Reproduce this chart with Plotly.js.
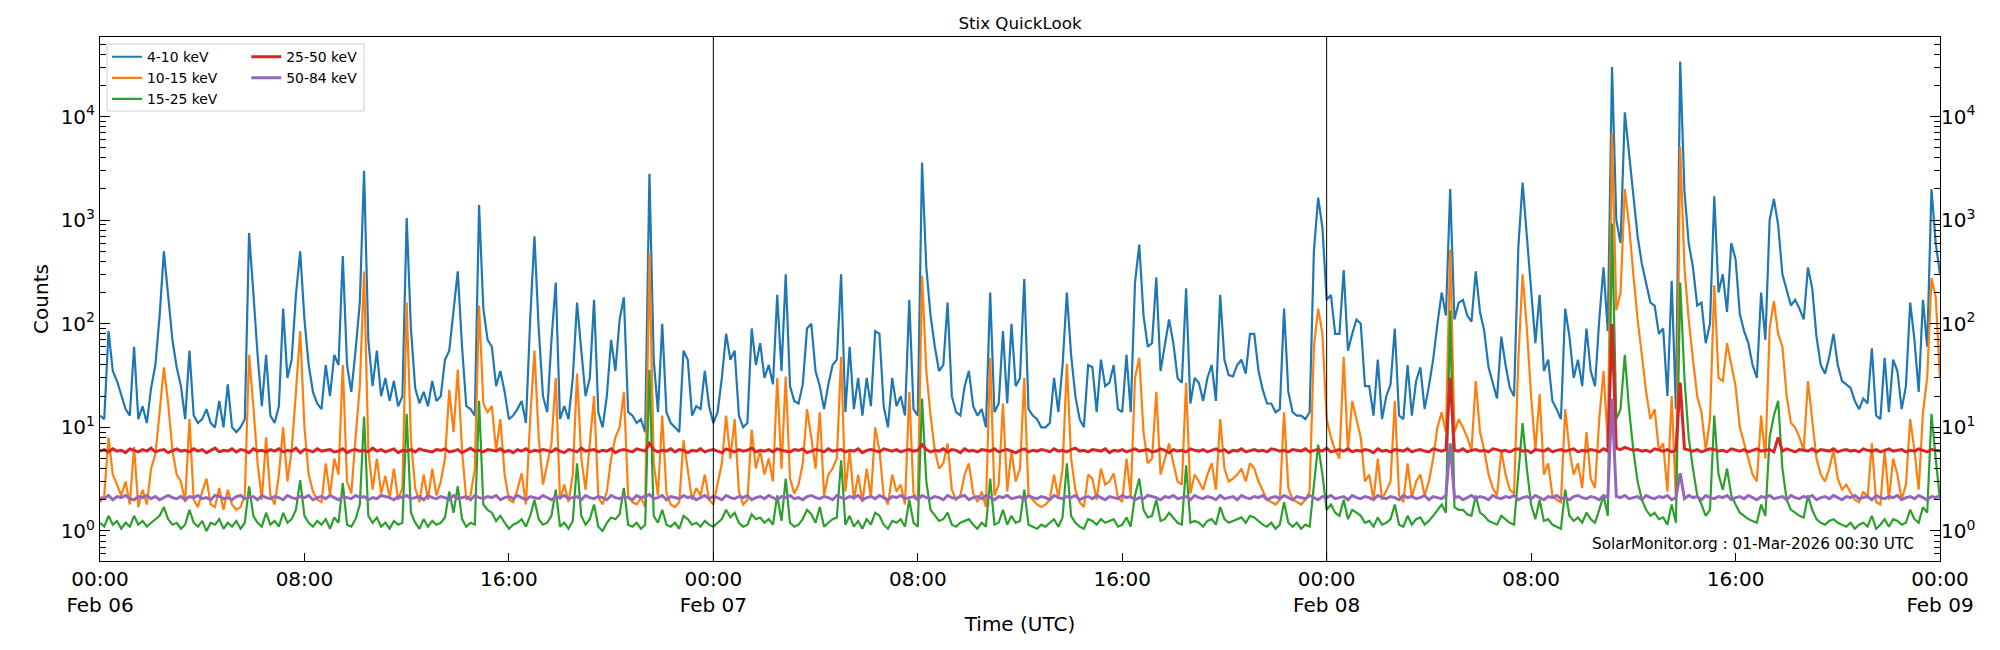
<!DOCTYPE html>
<html>
<head>
<meta charset="utf-8">
<script src="https://cdn.plot.ly/plotly-3.0.1.min.js"></script>
<style>
  html, body { margin: 0; padding: 0; background: #ffffff; }
  #chart { width: 2000px; height: 650px; }
</style>
</head>
<body>
<div id="chart"></div>
<script>
// STIX quicklook light curves, 10-minute bins starting 2026-02-06 00:00 UTC
const START_UTC = Date.UTC(2026, 1, 6, 0, 0, 0);
const BIN_MINUTES = 10;

const bandLabels = ['4-10 keV', '10-15 keV', '15-25 keV', '25-50 keV', '50-84 keV'];
const bandColors = ['#1f77b4', '#ff7f0e', '#2ca02c', '#d62728', '#9467bd'];

const counts_4_10 = [
  13,12,85,35,28,20,15,13,60,12,
  16,11,24,40,120,500,190,70,38,25,
  12,55,13,11,12,15,11,10,18,10,
  26,10,9,10,12,750,200,50,16,50,
  13,11,16,140,30,45,190,500,110,40,
  22,17,15,40,20,50,40,450,40,22,
  55,160,3000,70,25,55,20,30,18,28,
  16,20,1050,90,24,17,22,16,28,18,
  20,45,55,140,320,60,16,15,13,1400,
  140,70,60,25,35,22,12,13,15,18,
  11,110,700,90,20,14,70,250,12,16,
  12,30,160,55,20,30,170,14,10,20,
  70,35,110,180,14,13,11,12,9,2800,
  45,14,100,14,11,10,9,55,45,13,
  16,15,35,16,11,14,30,80,45,55,
  13,10,11,90,40,65,30,40,26,190,
  35,300,25,18,17,26,90,100,35,25,
  15,26,40,45,300,14,60,15,30,13,
  30,16,85,80,16,10,30,16,20,13,
  170,15,13,3600,350,120,60,35,40,160,
  20,14,13,25,35,16,13,15,10,200,
  14,17,85,17,100,25,30,270,15,13,
  12,10,10,11,30,14,40,200,50,20,
  12,10,40,38,14,45,25,27,40,15,
  14,50,14,250,580,120,60,65,280,35,
  65,110,65,30,27,220,17,30,27,18,
  30,40,18,190,45,32,31,40,45,33,
  80,80,35,23,17,17,14,15,140,22,
  14,13,13,12,14,500,1650,850,170,190,
  80,80,330,55,80,110,100,25,25,13,
  45,12,20,26,90,13,12,40,13,28,
  38,15,25,45,100,200,120,2000,110,160,
  170,120,105,320,130,85,38,26,19,75,
  40,24,20,550,2300,700,220,65,190,35,
  45,18,15,12,140,75,30,45,25,90,
  35,25,110,350,85,30000,1000,600,11000,4500,
  1600,700,380,250,160,150,80,90,20,260,
  15,34000,1900,600,350,150,160,65,100,1700,
  200,300,130,600,420,125,85,65,40,30,
  200,70,1000,1600,900,300,210,150,170,140,
  110,350,220,75,40,33,48,80,40,28,
  26,24,18,15,19,17,58,13,12,47,
  14,45,35,15,25,160,70,22,170,60,
  2000,600,300
];

const counts_10_15 = [
  1.9,2.2,8,3.5,2.8,2.2,3.0,1.8,6.5,1.7,
  2.5,1.8,4.0,5.5,14,38,17,6,3.5,3.0,
  1.9,12,2.0,1.7,2.4,3.2,1.8,1.7,2.6,1.6,
  2.5,1.8,1.6,1.7,2.2,50,16,4.5,2.0,8,
  2.2,1.8,3.5,10,3.0,6,22,85,10,3.5,
  2.4,2.0,1.9,4.5,2.2,5,3.5,40,3.0,2.3,
  8,25,320,6,2.5,5,2.3,3.4,2.1,4,
  2.0,2.6,160,7.5,2.6,1.9,3.5,2.0,4,2.2,
  3.0,5,23,9,36,6,2.0,2.2,4,150,
  17,14,16,6,12,3.5,2.0,1.9,2.5,3.6,
  1.8,12,55,8,2.8,4.5,7,30,2.0,2.8,
  1.9,3.5,33,5,2.5,7,20,2.1,1.8,2.4,
  5,8,10,22,2.2,1.9,1.8,2.1,1.7,480,
  4.5,2.2,13,2.3,1.8,1.7,1.9,7.5,4,2.0,
  2.6,2.2,3.5,2.0,1.8,2.8,4.5,13,5,12,
  2.4,1.8,2.0,9.5,4,6,3.5,5,3,30,
  4,31,3.2,2.3,2.8,4.5,15,8,4,14,
  2.2,3.5,4,5,48,2.4,6,2.0,3.5,1.9,
  4,2.1,10,6,2.2,1.8,3.5,2.4,2.8,1.8,
  22,2.3,2.0,290,35,13,6,4,4.5,7,
  2.5,2.0,2.2,3.5,4.5,2.3,1.9,2.4,1.7,47,
  2.2,2.8,17,2.4,6,3.0,4,30,2.2,2.0,
  1.8,1.7,1.8,2.0,3.5,2.1,4,41,5,2.5,
  1.9,1.7,3.5,3.2,2.0,4,2.8,3.0,3.6,2.1,
  1.9,5,2.2,30,47,9,4.5,5,22,3.5,
  5,7,4.5,3.0,2.8,27,2.3,3.5,3.0,2.5,
  3.5,4.5,2.5,12,4,3.0,3.2,3.5,4,3.0,
  4.5,4,3.0,2.4,2.0,1.9,1.8,2.0,14,2.6,
  2.0,1.9,1.8,2.0,2.4,60,140,80,12,8,
  6,5,48,6,18,12,8,3.0,3.5,2.0,
  5,2.0,2.5,3.0,18,2.2,1.9,4.5,2.1,3.0,
  3.5,2.2,3.0,5,10,14,9,520,9,12,
  10,8,6,28,9,6,3.5,2.6,2.2,6,
  3.5,2.5,2.3,45,300,90,20,6,21,3.5,
  4.5,2.2,2.0,1.9,15,6,3.5,4.5,2.6,9,
  3.2,2.6,12,35,7,6900,135,200,2000,900,
  300,110,50,22,12,15,6,7,2.4,20,
  2.0,5100,350,110,45,20,14,6,12,235,
  30,28,65,40,25,10,7,5,3.5,3.0,
  13,5,90,165,80,60,20,11,10,8,
  6,28,12,5,3.5,3.0,4,6,3.2,2.5,
  2.8,2.4,2.0,1.9,2.4,2.1,7,1.9,1.8,6,
  2.0,5,3.5,2.0,2.8,12,6,2.5,14,30,
  275,180,30
];

const counts_15_25 = [
  1.2,1.1,1.4,1.15,1.25,1.05,1.2,1.1,1.4,1.15,
  1.25,1.1,1.2,1.3,1.4,1.7,1.3,1.15,1.2,1.05,
  1.15,1.6,1.2,1.1,1.25,1.0,1.2,1.15,1.3,1.05,
  1.2,1.1,1.25,1.05,1.2,2.7,1.4,1.2,1.1,1.5,
  1.15,1.25,1.1,1.5,1.2,1.3,1.6,3.1,1.4,1.2,
  1.1,1.25,1.15,1.3,1.05,1.35,1.2,2.9,1.15,1.1,
  1.3,1.8,12.7,1.4,1.2,1.35,1.1,1.2,1.05,1.25,
  1.15,1.2,13.5,1.5,1.2,1.05,1.3,1.1,1.25,1.15,
  1.2,1.35,2.4,1.5,2.7,1.3,1.1,1.2,1.15,18,
  1.8,1.6,1.5,1.25,1.4,1.2,1.05,1.15,1.2,1.3,
  1.1,1.4,2.0,1.3,1.15,1.2,1.4,2.5,1.1,1.2,
  1.05,1.25,4.5,1.4,1.15,1.3,1.8,1.1,1.0,1.2,
  1.35,1.3,1.45,2.6,1.15,1.1,1.2,1.05,1.15,36,
  1.4,1.2,1.6,1.15,1.1,1.2,1.05,1.4,1.3,1.15,
  1.2,1.1,1.25,1.15,1.1,1.2,1.3,1.6,1.35,1.5,
  1.2,1.1,1.15,1.45,1.3,1.35,1.2,1.3,1.15,2.2,
  1.25,3.2,1.2,1.1,1.15,1.3,1.6,1.45,1.2,1.7,
  1.1,1.2,1.3,1.35,4.8,1.15,1.4,1.1,1.25,1.05,
  1.3,1.15,1.5,1.4,1.15,1.05,1.25,1.2,1.3,1.1,
  2.0,1.2,1.1,19,3.0,1.6,1.4,1.25,1.3,1.5,
  1.15,1.1,1.2,1.25,1.3,1.15,1.05,1.2,1.1,3.2,
  1.15,1.2,1.6,1.15,1.4,1.2,1.25,2.5,1.15,1.1,
  1.05,1.15,1.1,1.2,1.3,1.1,1.35,4.5,1.4,1.2,
  1.1,1.05,1.3,1.25,1.15,1.3,1.2,1.25,1.3,1.1,
  1.15,1.35,1.1,2.2,3.2,1.6,1.35,1.4,2.0,1.25,
  1.3,1.5,1.35,1.2,1.15,4.3,1.2,1.25,1.2,1.1,
  1.25,1.3,1.15,1.7,1.3,1.2,1.25,1.3,1.35,1.2,
  1.4,1.35,1.25,1.15,1.1,1.2,1.05,1.15,1.9,1.2,
  1.1,1.2,1.05,1.15,1.1,2.8,6.8,3.5,1.6,1.8,
  1.5,1.4,2.0,1.3,1.6,1.5,1.4,1.2,1.25,1.1,
  1.35,1.15,1.2,1.3,1.8,1.15,1.1,1.4,1.15,1.3,
  1.35,1.15,1.25,1.4,1.6,1.8,1.5,135,1.7,1.6,
  1.6,1.45,1.4,2.2,1.5,1.4,1.25,1.2,1.15,1.4,
  1.3,1.2,1.15,3.5,11,4,1.8,1.3,2.0,1.25,
  1.3,1.15,1.1,1.05,2.5,1.4,1.25,1.35,1.2,1.5,
  1.3,1.2,1.6,2.2,1.4,930,12,15,50,15,
  6,3,2.0,1.6,1.4,1.5,1.3,1.35,1.15,1.8,
  1.2,250,30,8,4,2.2,1.8,1.4,1.6,13,
  3.5,2.5,4,2.2,1.8,1.5,1.4,1.3,1.25,1.2,
  1.8,1.4,8,13,18,4,2.0,1.6,1.5,1.4,
  1.35,2.2,1.6,1.3,1.2,1.15,1.25,1.3,1.2,1.15,
  1.1,1.2,1.05,1.15,1.2,1.1,1.4,1.05,1.15,1.3,
  1.1,1.3,1.25,1.15,1.2,1.6,1.3,1.2,1.7,1.5,
  13.5,5,2.0
];

const counts_25_50 = [
  5.9,6.1,5.8,6.2,5.9,6.0,5.7,6.2,6.0,5.8,6.1,5.9,6.3,5.8,6.0,6.1,5.7,6.0,6.2,5.9,
  6.0,5.8,6.2,5.9,6.1,5.7,6.0,6.3,5.8,6.0,5.9,6.2,5.8,6.1,6.0,5.7,6.2,5.9,6.0,5.8,
  6.1,5.9,6.2,5.8,6.0,5.9,6.3,5.7,6.1,6.0,5.8,6.2,5.9,6.0,6.1,5.8,5.9,6.2,5.7,6.0,
  6.1,5.9,6.0,5.8,6.3,5.9,6.1,5.8,6.0,6.2,5.7,6.0,5.9,6.1,5.8,6.2,6.0,5.9,5.8,6.1,
  6.0,6.2,5.8,5.9,6.1,5.7,6.0,6.3,5.9,6.0,5.8,6.1,6.0,5.9,6.2,5.8,6.0,5.7,6.1,5.9,
  6.2,5.8,6.0,5.9,6.1,6.0,5.8,6.2,5.9,5.7,6.1,6.0,5.8,6.3,5.9,6.0,6.1,5.8,6.0,5.9,
  6.2,5.7,6.0,6.1,5.9,5.8,6.2,6.0,5.9,7.0,6.1,5.8,6.0,5.9,6.2,5.8,6.1,6.0,5.7,6.0,
  5.9,6.2,5.8,6.0,6.1,5.9,5.7,6.2,6.0,5.8,6.1,5.9,6.0,6.3,5.8,6.0,5.9,6.1,5.8,6.2,
  6.0,5.9,5.8,6.1,6.0,6.2,5.7,5.9,6.1,6.0,5.8,6.2,5.9,6.0,6.1,5.8,6.0,5.9,6.2,5.7,
  6.0,6.1,5.9,5.8,6.2,6.0,5.9,6.1,5.8,6.0,6.1,5.9,6.0,6.8,6.1,5.8,6.0,5.9,6.2,5.8,
  6.1,6.0,5.7,6.2,5.9,6.0,5.8,6.1,6.0,5.9,6.2,5.8,6.0,6.1,5.9,5.7,6.0,6.2,5.8,6.0,
  5.9,6.1,6.0,5.8,6.2,5.9,6.0,5.8,6.1,6.3,5.9,6.0,5.8,6.1,6.0,5.9,6.2,5.7,6.0,5.9,
  6.1,5.8,6.0,6.2,5.9,6.0,6.1,5.8,5.9,6.2,6.0,5.7,6.1,5.9,6.0,5.8,6.2,6.0,5.9,6.1,
  5.8,6.0,6.2,5.9,6.1,5.7,6.0,5.9,6.2,5.8,6.0,6.1,5.9,6.0,5.8,6.2,6.1,5.9,6.0,5.8,
  6.1,6.0,5.9,6.2,5.8,6.0,6.1,5.9,6.3,5.8,6.0,6.1,5.9,6.2,5.8,6.0,5.9,6.1,6.0,5.7,
  6.2,5.9,6.0,5.8,6.1,6.0,5.9,6.2,5.8,6.0,6.1,5.9,5.8,6.2,6.0,5.9,6.1,30,6.0,5.9,
  6.2,5.8,6.0,6.1,5.9,6.0,5.8,6.2,6.1,5.9,6.0,5.8,6.1,6.2,5.9,6.0,5.7,6.1,6.0,5.9,
  6.2,5.8,6.0,6.1,5.9,6.0,6.2,5.8,6.0,5.9,6.1,6.0,5.8,6.2,5.9,100,6.3,6.1,6.4,6.2,
  6.0,6.1,5.9,6.0,5.8,6.2,6.0,5.9,6.1,5.8,6.0,27,6.2,6.0,5.9,6.1,5.8,6.0,6.2,6.1,
  5.9,6.0,5.8,6.2,6.0,5.9,6.1,5.8,6.0,6.2,5.9,6.0,6.1,5.8,8,5.9,6.2,6.0,5.8,6.1,
  6.0,5.9,6.2,5.8,6.1,6.0,5.9,6.2,5.8,6.0,6.1,5.9,6.0,5.8,6.2,6.0,5.9,6.1,5.8,6.0,
  6.2,5.9,6.0,6.1,5.8,6.0,5.9,6.2,6.0,5.8,6.1,6.0,5.9
];

const counts_50_84 = [
  2.1,2.05,2.2,2.0,2.15,2.1,2.2,2.05,2.0,2.15,2.1,2.2,2.05,2.15,2.0,2.1,2.2,2.1,2.05,2.15,
  2.0,2.15,2.1,2.2,2.05,2.1,2.0,2.2,2.15,2.05,2.1,2.0,2.15,2.2,2.05,2.1,2.15,2.0,2.2,2.1,
  2.05,2.15,2.1,2.0,2.2,2.1,2.05,2.15,2.1,2.2,2.0,2.1,2.15,2.05,2.2,2.1,2.0,2.15,2.1,2.05,
  2.2,2.1,2.15,2.0,2.1,2.05,2.2,2.15,2.1,2.0,2.15,2.1,2.2,2.05,2.1,2.15,2.0,2.2,2.1,2.05,
  2.15,2.1,2.0,2.2,2.05,2.1,2.15,2.0,2.2,2.1,2.05,2.15,2.1,2.2,2.0,2.1,2.15,2.05,2.2,2.1,
  2.0,2.15,2.1,2.05,2.2,2.1,2.0,2.15,2.1,2.2,2.05,2.1,2.15,2.0,2.2,2.1,2.05,2.15,2.1,2.0,
  2.2,2.1,2.05,2.15,2.1,2.0,2.2,2.1,2.15,2.25,2.05,2.1,2.2,2.0,2.15,2.1,2.05,2.2,2.1,2.15,
  2.0,2.1,2.2,2.05,2.15,2.1,2.0,2.2,2.1,2.05,2.15,2.1,2.2,2.0,2.1,2.15,2.05,2.2,2.1,2.0,
  2.15,2.1,2.2,2.05,2.1,2.0,2.15,2.2,2.1,2.05,2.15,2.1,2.0,2.2,2.1,2.05,2.15,2.1,2.2,2.0,
  2.1,2.15,2.05,2.2,2.1,2.0,2.15,2.1,2.2,2.05,2.1,2.15,2.0,2.2,2.1,2.05,2.15,2.1,2.0,2.2,
  2.1,2.05,2.15,2.2,2.0,2.1,2.15,2.05,2.2,2.1,2.0,2.15,2.1,2.2,2.05,2.1,2.15,2.0,2.2,2.1,
  2.05,2.15,2.1,2.0,2.2,2.1,2.05,2.15,2.1,2.2,2.0,2.1,2.15,2.05,2.2,2.1,2.0,2.15,2.1,2.05,
  2.2,2.1,2.15,2.0,2.1,2.05,2.2,2.15,2.1,2.0,2.15,2.1,2.2,2.05,2.1,2.15,2.0,2.2,2.1,2.05,
  2.15,2.1,2.0,2.2,2.05,2.1,2.15,2.0,2.2,2.1,2.05,2.15,2.1,2.2,2.0,2.1,2.15,2.05,2.2,2.1,
  2.0,2.15,2.1,2.05,2.2,2.1,2.0,2.15,2.1,2.2,2.05,2.1,2.15,2.0,2.2,2.1,2.05,2.15,2.1,2.0,
  2.2,2.1,2.05,2.15,2.1,2.0,2.2,2.1,2.15,2.05,2.1,2.2,2.0,2.15,2.1,2.05,2.2,7,2.1,2.15,
  2.0,2.1,2.2,2.05,2.15,2.1,2.0,2.2,2.1,2.05,2.15,2.1,2.2,2.0,2.1,2.15,2.05,2.2,2.1,2.0,
  2.15,2.1,2.2,2.05,2.1,2.0,2.15,2.2,2.1,2.05,2.15,2.1,2.0,2.2,2.1,19,2.15,2.1,2.2,2.05,
  2.1,2.15,2.0,2.2,2.1,2.05,2.15,2.1,2.2,2.0,2.1,3.6,2.05,2.2,2.1,2.15,2.0,2.2,2.1,2.05,
  2.15,2.1,2.2,2.0,2.1,2.15,2.05,2.2,2.1,2.0,2.15,2.1,2.2,2.05,2.1,2.15,2.0,2.2,2.1,2.05,
  2.15,2.1,2.2,2.0,2.1,2.15,2.05,2.2,2.1,2.0,2.15,2.1,2.2,2.05,2.1,2.15,2.0,2.2,2.1,2.05,
  2.15,2.1,2.2,2.0,2.1,2.15,2.05,2.2,2.1,2.0,2.15,2.1,2.2
];

// x-axis ticks every 8 hours, with the date under each midnight
const tickHours = [0, 8, 16, 24, 32, 40, 48, 56, 64, 72];
const tickLabels = ['00:00<br>Feb 06', '08:00', '16:00', '00:00<br>Feb 07', '08:00', '16:00',
                    '00:00<br>Feb 08', '08:00', '16:00', '00:00<br>Feb 09'];
const dayBoundaryHours = [24, 48];

// log-axis decade labels
const decadeValues = [1, 10, 100, 1000, 10000];
const decadeLabels = ['10<sup>0</sup>', '10<sup>1</sup>', '10<sup>2</sup>', '10<sup>3</sup>', '10<sup>4</sup>'];

function stamp(ms) {
  return new Date(ms).toISOString().slice(0, 19).replace('T', ' ');
}
function binTimes(n) {
  const out = [];
  for (let i = 0; i < n; i++) out.push(stamp(START_UTC + i * BIN_MINUTES * 60000));
  return out;
}
const hourStamp = h => stamp(START_UTC + h * 3600000);

const series = [counts_4_10, counts_10_15, counts_15_25, counts_25_50, counts_50_84];
const legendRef = ['legend', 'legend', 'legend', 'legend2', 'legend2'];
const lineWidths = [2.2, 2.2, 2.2, 3, 3];

const traces = series.map((vals, k) => ({
  type: 'scatter',
  mode: 'lines',
  name: bandLabels[k],
  x: binTimes(vals.length),
  y: vals,
  line: { color: bandColors[k], width: lineWidths[k] },
  legend: legendRef[k],
  yaxis: k === 4 ? 'y2' : 'y',
  hoverinfo: 'skip'
}));

const minorVals = [];
for (let e = -1; e <= 4; e++) {
  for (let m = 2; m <= 9; m++) minorVals.push(m * Math.pow(10, e));
}

const Y_RANGE = [-0.29, 4.768];
const tickFont = { family: 'DejaVu Sans', size: 20, color: '#000000' };

const yCommon = {
  type: 'log',
  range: Y_RANGE,
  tickmode: 'array',
  tickvals: decadeValues,
  ticktext: decadeLabels,
  ticks: 'inside',
  ticklen: 10,
  tickwidth: 1,
  tickcolor: '#000000',
  tickfont: tickFont,
  minor: { tickmode: 'array', tickvals: minorVals, ticks: 'inside', ticklen: 6, tickwidth: 1, tickcolor: '#000000', showgrid: false },
  showgrid: false,
  zeroline: false,
  automargin: false
};

const shapes = dayBoundaryHours.map(h => ({
  type: 'line', xref: 'x', yref: 'paper',
  x0: hourStamp(h), x1: hourStamp(h), y0: 0, y1: 1,
  line: { color: '#000000', width: 1 }, layer: 'above'
}));
// frame around the two legend columns
shapes.push({
  type: 'rect', xref: 'paper', yref: 'paper',
  x0: 0.0038, x1: 0.1435, y0: 0.8588, y1: 0.9866,
  line: { color: '#cccccc', width: 1 },
  fillcolor: 'rgba(255,255,255,0.8)', layer: 'above'
});

const legendFont = { family: 'DejaVu Sans', size: 13.9, color: '#000000' };

const layout = {
  width: 2000,
  height: 650,
  margin: { l: 100, r: 60, t: 37, b: 89, pad: 0 },
  paper_bgcolor: '#ffffff',
  plot_bgcolor: '#ffffff',
  font: { family: 'DejaVu Sans', color: '#000000' },
  title: {
    text: 'Stix QuickLook',
    font: { family: 'DejaVu Sans', size: 16.7, color: '#000000' },
    x: 0.5, xref: 'paper', xanchor: 'center',
    y: 1 - 23 / 650, yref: 'container', yanchor: 'middle'
  },
  xaxis: {
    type: 'date',
    range: [hourStamp(0), hourStamp(72)],
    tickmode: 'array',
    tickvals: tickHours.map(hourStamp),
    ticktext: tickLabels,
    ticks: 'inside',
    ticklen: 8,
    tickwidth: 1,
    tickcolor: '#000000',
    tickfont: tickFont,
    showline: true,
    linecolor: '#000000',
    linewidth: 1,
    mirror: true,
    showgrid: false,
    zeroline: false,
    automargin: false,
    title: { text: 'Time (UTC)', font: { family: 'DejaVu Sans', size: 20, color: '#000000' }, standoff: 0 }
  },
  yaxis: Object.assign({}, yCommon, {
    showline: true,
    linecolor: '#000000',
    linewidth: 1,
    mirror: true,
    title: { text: 'Counts', font: { family: 'DejaVu Sans', size: 20, color: '#000000' }, standoff: 6 }
  }),
  yaxis2: Object.assign({}, yCommon, {
    overlaying: 'y',
    side: 'right',
    showline: false
  }),
  legend: {
    x: 0.0038, y: 0.992, xanchor: 'left', yanchor: 'top',
    orientation: 'v',
    bgcolor: 'rgba(0,0,0,0)', borderwidth: 0,
    font: legendFont, itemwidth: 30, tracegroupgap: 0
  },
  legend2: {
    x: 0.0795, y: 0.992, xanchor: 'left', yanchor: 'top',
    orientation: 'v',
    bgcolor: 'rgba(0,0,0,0)', borderwidth: 0,
    font: legendFont, itemwidth: 30, tracegroupgap: 0
  },
  shapes: shapes,
  annotations: [{
    text: 'SolarMonitor.org : 01-Mar-2026 00:30 UTC',
    xref: 'paper', yref: 'paper',
    x: 0.987, y: 0.0324, xanchor: 'right', yanchor: 'middle',
    showarrow: false,
    font: { family: 'DejaVu Sans', size: 15.3, color: '#000000' }
  }]
};

Plotly.newPlot('chart', traces, layout, { displayModeBar: false, staticPlot: true });
</script>
</body>
</html>
